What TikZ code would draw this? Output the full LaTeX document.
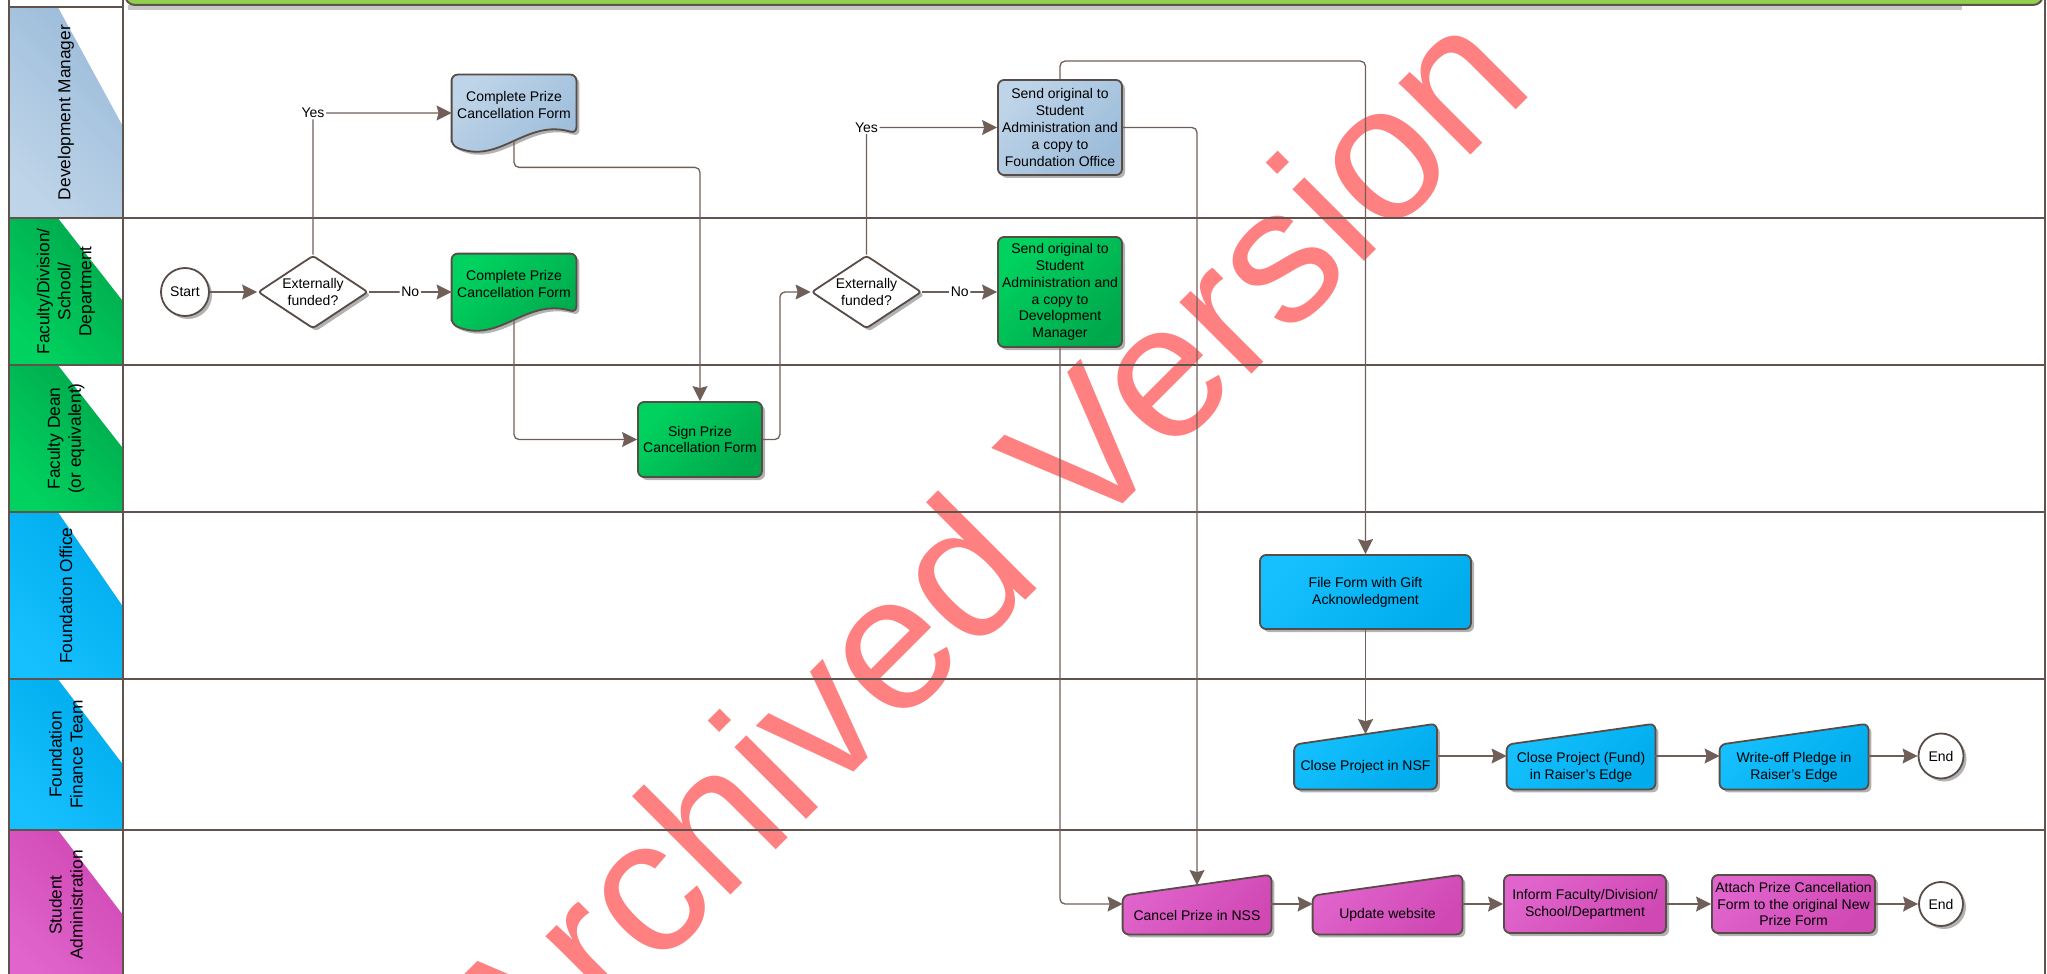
\documentclass[tikz,border=0pt]{standalone}
\usepackage{fontspec}
\setmainfont{Liberation Sans}
\usetikzlibrary{arrows.meta,shapes.geometric,shadows,backgrounds}

\definecolor{lanecol}{RGB}{96,82,76}
\definecolor{linecol}{RGB}{112,95,88}
\definecolor{boxline}{RGB}{88,76,70}
\definecolor{barcol}{RGB}{146,208,80}
\definecolor{dmA}{RGB}{190,212,232}
\definecolor{dmB}{RGB}{156,188,218}
\definecolor{grA}{RGB}{0,210,95}
\definecolor{grB}{RGB}{0,168,76}
\definecolor{cyA}{RGB}{22,192,255}
\definecolor{cyB}{RGB}{0,172,236}
\definecolor{mgA}{RGB}{224,100,204}
\definecolor{mgB}{RGB}{208,72,180}
\definecolor{wmcol}{RGB}{255,128,128}

\newcommand{\boxfont}{\fontsize{7}{8.4}\selectfont}
\newcommand{\lanefont}{\fontsize{8.65}{10.5}\selectfont}
\newcommand{\wmfont}{\fontsize{96}{100}\selectfont}
\newcommand{\rowlift}{5.5pt}
\newcommand{\lanehead}[6]{%
  \fill[top color=#4,bottom color=#3,shading angle=-45] (9,#1) rectangle (123,#2);
  \fill[white] (58,#1) -- (123,#1) -- (123,{#1+0.565*(#2-#1)}) -- cycle;
  \node[lanetext] (#5) at (66,{(#1+#2)/2}) {#6};}
\newcommand{\docshape}[2]{\path[shapeline,#2] ([yshift=-5pt]#1.south west) -- (#1.north west) -- (#1.north east) -- ([yshift=1pt]#1.south east) .. controls +(-25.5pt,7.5pt) and +(24pt,-10pt) .. ([yshift=-5pt]#1.south west) -- cycle;}
\newcommand{\inshape}[2]{\path[shapeline,#2] (#1.south west) -- (#1.north west) -- ([yshift=10.5pt]#1.north east) -- (#1.south east) -- cycle;}

\begin{document}
\begin{tikzpicture}[x=0.5pt,y=-0.5pt,
  lane/.style={draw=lanecol,line width=1pt},
  flow/.style={draw=linecol,line width=0.65pt,rounded corners=2.5pt,-{Stealth[length=7.5pt,width=7.5pt,inset=1pt]}},
  lbl/.style={fill=white,inner sep=0.8pt,font=\boxfont},
  shadowed/.style={drop shadow={shadow xshift=1.5pt,shadow yshift=-1.5pt,opacity=0.3,fill=black}},
  box/.style={rectangle,rounded corners=3pt,draw=boxline,line width=0.9pt,align=center,font=\boxfont,inner sep=1pt,shadowed},
  shapeline/.style={draw=boxline,line width=0.9pt,rounded corners=3pt,shadowed},
  docbox/.style={rectangle,minimum width=62pt,minimum height=30pt,align=center,font=\boxfont,inner sep=0pt},
  inbox/.style={rectangle,align=center,font=\boxfont,inner sep=0pt},
  decision/.style={diamond,aspect=1.5,draw=boxline,line width=0.9pt,fill=white,rounded corners=1.5pt,minimum width=55pt,minimum height=36.5pt,inner sep=0pt,align=center,font=\boxfont,shadowed},
  term/.style={circle,draw=boxline,line width=0.9pt,fill=white,inner sep=0pt,font=\boxfont,shadowed},
  lanetext/.style={rotate=90,align=center,font=\lanefont,inner sep=0pt},
  wmark/.style={anchor=base west,rotate=45,inner sep=0pt,text=wmcol,font=\wmfont},
  dmfill/.style={top color=dmA,bottom color=dmB,shading angle=45},
  grfill/.style={top color=grA,bottom color=grB,shading angle=45},
  cyfill/.style={top color=cyA,bottom color=cyB,shading angle=45},
  mgfill/.style={top color=mgA,bottom color=mgB,shading angle=45}]
\useasboundingbox (0,0) rectangle (2047,974);
\clip (0,0) rectangle (2047,974);

\node[wmark] (wm) at (518,1108) {Archived Version};

\lanehead{7}{218}{dmA}{dmB}{ldm}{Development Manager}
\lanehead{218}{365}{grA}{grB}{lfd}{Faculty/Division/\\School/\\Department}
\lanehead{365}{512}{grA}{grB}{ldean}{Faculty Dean\\(or equivalent)}
\lanehead{512}{679}{cyA}{cyB}{lfo}{Foundation Office}
\lanehead{679}{830}{cyA}{cyB}{lfin}{Foundation\\Finance Team}
\lanehead{830}{980}{mgA}{mgB}{lsa}{Student\\Administration}

\fill[black!22] (128,5.5) rectangle (1962,10);
\draw[lanecol,line width=1pt,fill=barcol,rounded corners=5pt] (125,-30) rectangle (2043,5);
\draw[lane] (9,0) -- (9,974);
\draw[lane] (123,0) -- (123,974);
\draw[lane] (2045,0) -- (2045,974);
\draw[lane] (9,7) -- (123,7);
\foreach \y in {218,365,512,679,830}
  \draw[lane] (9,\y) -- (2045,\y);

\node[term,minimum size=24pt] (start) at (185,292) {Start};
\node[decision] (ext1) at (313,292) {Externally\\funded?};
\node[docbox] (dmform) at (514,105) {Complete Prize\\Cancellation Form};
\node[docbox] (fdform) at (514,284) {Complete Prize\\Cancellation Form};
\node[box,grfill,minimum width=62pt,minimum height=37.5pt] (sign) at (700,439.5) {Sign Prize\\Cancellation Form};
\node[decision] (ext2) at (866.5,292) {Externally\\funded?};
\node[box,dmfill,minimum width=62pt,minimum height=47.5pt] (senddm) at (1060,127.5) {Send original to\\Student\\Administration and\\a copy to\\Foundation Office};
\node[box,grfill,minimum width=62pt,minimum height=55pt] (sendfd) at (1060,292) {Send original to\\Student\\Administration and\\a copy to\\Development\\Manager};
\node[box,cyfill,minimum width=105.5pt,minimum height=37pt] (file) at (1365.5,592) {File Form with Gift\\Acknowledgment};
\node[inbox,minimum width=71pt,minimum height=22pt] (nsf) at (1365.5,767) {Close Project in NSF};
\node[inbox,minimum width=74pt,minimum height=22pt] (fund) at (1581,767) {Close Project (Fund)\\in Raiser's Edge};
\node[inbox,minimum width=74pt,minimum height=22pt] (pledge) at (1794,767) {Write-off Pledge in\\Raiser's Edge};
\node[term,minimum size=22.5pt] (end1) at (1941,756) {End};
\node[inbox,minimum width=74pt,minimum height=19pt] (cancel) at (1197,915) {Cancel Prize in NSS};
\node[inbox,minimum width=74.5pt,minimum height=19pt] (update) at (1387.5,915) {Update website};
\node[box,mgfill,minimum width=81pt,minimum height=29pt] (inform) at (1585,904) {Inform Faculty/Division/\\School/Department};
\node[box,mgfill,minimum width=81.5pt,minimum height=29pt] (attach) at (1793.5,904) {Attach Prize Cancellation\\Form to the original New\\Prize Form};
\node[term,minimum size=22pt] (end2) at (1941,904) {End};

\begin{pgfonlayer}{background}
\docshape{dmform}{dmfill}
\docshape{fdform}{grfill}
\inshape{nsf}{cyfill}
\inshape{fund}{cyfill}
\inshape{pledge}{cyfill}
\inshape{cancel}{mgfill}
\inshape{update}{mgfill}
\end{pgfonlayer}

\draw[flow] (start) -- (ext1);
\draw[flow] (ext1.north) |- node[lbl] {Yes} ([yshift=-4pt]dmform.west);
\draw[flow] (ext1.east) -- node[lbl] {No} ([yshift=-4pt]fdform.west);
\draw[flow] ([yshift=-3pt]dmform.south) -- ++(0,26) -| (sign.north);
\draw[flow] ([yshift=-3pt]fdform.south) |- (sign.west);
\draw[flow] (sign.east) -- ++(17,0) |- (ext2.west);
\draw[flow] (ext2.north) |- node[lbl] {Yes} (senddm.west);
\draw[flow] (ext2.east) -- node[lbl] {No} (sendfd.west);
\draw[flow] (senddm.north) -- ++(0,-18) -| (file.north);
\draw[flow] (senddm.east) -| ([yshift=5.25pt]cancel.north);
\draw[flow] (sendfd.south) |- ([yshift=\rowlift]cancel.west);
\draw[flow] (file.south) -- ([yshift=5.25pt]nsf.north);
\draw[flow] ([yshift=\rowlift]nsf.east) -- ([yshift=\rowlift]fund.west);
\draw[flow] ([yshift=\rowlift]fund.east) -- ([yshift=\rowlift]pledge.west);
\draw[flow] ([yshift=\rowlift]pledge.east) -- (end1.west);
\draw[flow] ([yshift=\rowlift]cancel.east) -- ([yshift=\rowlift]update.west);
\draw[flow] ([yshift=\rowlift]update.east) -- (inform.west);
\draw[flow] (inform.east) -- (attach.west);
\draw[flow] (attach.east) -- (end2.west);
\end{tikzpicture}
\end{document}
